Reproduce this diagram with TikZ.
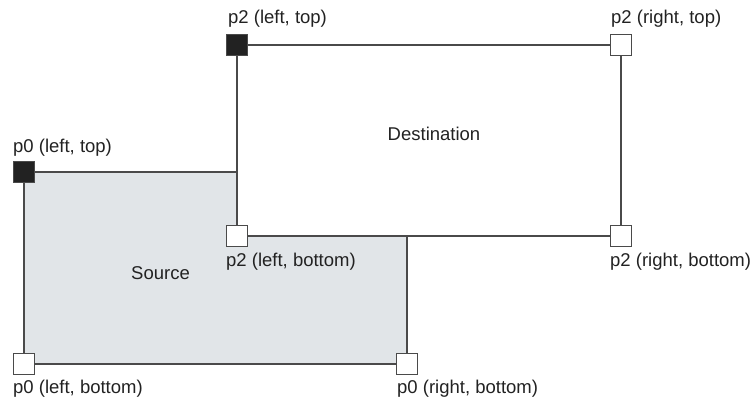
\documentclass[tikz,border=0pt]{standalone}
\usepackage{fontspec}
\setmainfont{Liberation Sans}
\begin{document}
\begin{tikzpicture}[x=1pt,y=-1pt,
  lbl/.style={anchor=base west,inner sep=0pt,text=txt,font=\fontsize{18.5}{22}\selectfont},
  ctr/.style={anchor=base,inner sep=0pt,text=txt,font=\fontsize{18.5}{22}\selectfont},
  handleon/.style={draw=edge,fill=hblack,line width=1pt,minimum size=21pt,inner sep=0pt},
  handleoff/.style={draw=edge,fill=white,line width=1pt,minimum size=21pt,inner sep=0pt},
  edgeline/.style={draw=edge,line width=1.2pt}]
\definecolor{edge}{HTML}{4A4A4A}
\definecolor{hblack}{HTML}{222222}
\definecolor{srcfill}{HTML}{E1E5E8}
\definecolor{txt}{HTML}{222222}
\useasboundingbox (0,0) rectangle (754,403);
% corners
\coordinate (s0) at (24,172);
\coordinate (s1) at (407,364);
\coordinate (d0) at (237,45);
\coordinate (d1) at (621,236);
% rectangles
\path[edgeline,fill=srcfill] (s0) rectangle (s1);
\path[edgeline,fill=white] (d0) rectangle (d1);
% handles
\node[handleon] (p2lt) at (d0) {};
\node[handleoff] (p2rt) at (d1 |- d0) {};
\node[handleoff] (p2lb) at (d0 |- d1) {};
\node[handleoff] (p2rb) at (d1) {};
\node[handleon] (p0lt) at (s0) {};
\node[handleoff] (p0lb) at (s0 |- s1) {};
\node[handleoff] (p0rb) at (s1) {};
% labels
\node[lbl] (l1) at (228,24) {p2 (left, top)};
\node[lbl] (l2) at (611,24) {p2 (right, top)};
\node[lbl] (l3) at (13,153) {p0 (left, top)};
\node[ctr] (l4) at (434,141) {Destination};
\node[lbl] (l5) at (226,266) {p2 (left, bottom)};
\node[lbl] (l6) at (610,266) {p2 (right, bottom)};
\node[lbl] (l7) at (131,279) {Source};
\node[lbl] (l8) at (13,393) {p0 (left, bottom)};
\node[lbl] (l9) at (397,393) {p0 (right, bottom)};
\end{tikzpicture}
\end{document}
